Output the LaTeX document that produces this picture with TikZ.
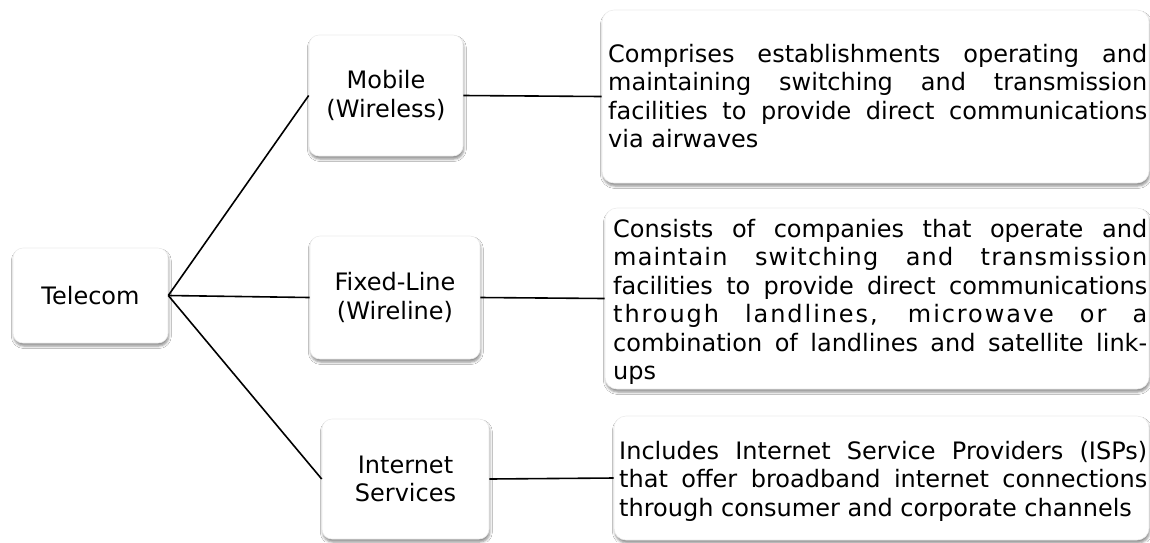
\documentclass[tikz,border=0pt]{standalone}
\usepackage{fontspec}
\setmainfont{DejaVu Sans}
\usetikzlibrary{shadows.blur}
\begin{document}
\begin{tikzpicture}[x=1pt,y=-1pt]
\tikzset{
  boxbase/.style={fill=white, draw=black!7, line width=0.6pt,
    blur shadow={shadow xshift=0.8pt, shadow yshift=-3pt, shadow blur radius=2.5pt, shadow opacity=45}},
  catbox/.style={boxbase, rounded corners=10pt, align=center, inner sep=0pt,
    font=\fontsize{24}{28.3}\selectfont},
  descbox/.style={boxbase, rounded corners=12pt, inner sep=0pt},
  desctext/.style={inner sep=0pt, font=\fontsize{24}{28.5}\selectfont, anchor=west},
  link/.style={line width=1.6pt, black}
}
\useasboundingbox (0,0) rectangle (1150,542);
\fill[white] (0,0) rectangle (1150,542);

% category boxes
\node[catbox, minimum width=155pt, minimum height=95pt] (tel) at (90.5,295.5) {Telecom};
\node[catbox, minimum width=154pt, minimum height=121pt] (mob) at (386,95.5) {Mobile\\(Wireless)};
\node[catbox, minimum width=170pt, minimum height=123pt] (fix) at (395,297.5) {Fixed-Line\\(Wireline)};
\node[catbox, minimum width=167pt, minimum height=120pt] (net) at (405.5,479) {Internet\\Services};

% description boxes
\node[descbox, minimum width=547pt, minimum height=173pt] (d1) at (875.5,96.5) {};
\node[descbox, minimum width=544pt, minimum height=181pt] (d2) at (877,298.5) {};
\node[descbox, minimum width=535pt, minimum height=124pt] (d3) at (881.5,478) {};

\node[desctext] (t1) at (608,96) {\parbox{539pt}{%
Comprises establishments operating and\linebreak
maintaining switching and transmission\linebreak
facilities to provide direct communications\linebreak
via airwaves}};

\node[desctext] (t2) at (613,302) {\parbox{534pt}{%
Consists of companies that operate and\linebreak
{\addfontfeatures{LetterSpace=5}maintain switching and transmission}\linebreak
facilities to provide direct communications\linebreak
{\addfontfeatures{LetterSpace=8}through landlines, microwave or a}\linebreak
combination of landlines and satellite link-\linebreak
ups}};

\node[desctext] (t3) at (619,481) {\parbox{528pt}{%
Includes Internet Service Providers (ISPs)\linebreak
that offer broadband internet connections\linebreak
through consumer and corporate channels}};

% connectors
\draw[link] (tel.east) -- (mob.west);
\draw[link] (tel.east) -- (fix.west);
\draw[link] (tel.east) -- (net.west);
\draw[link] (mob.east) -- (d1.west);
\draw[link] (fix.east) -- (d2.west);
\draw[link] (net.east) -- (d3.west);
\end{tikzpicture}
\end{document}
